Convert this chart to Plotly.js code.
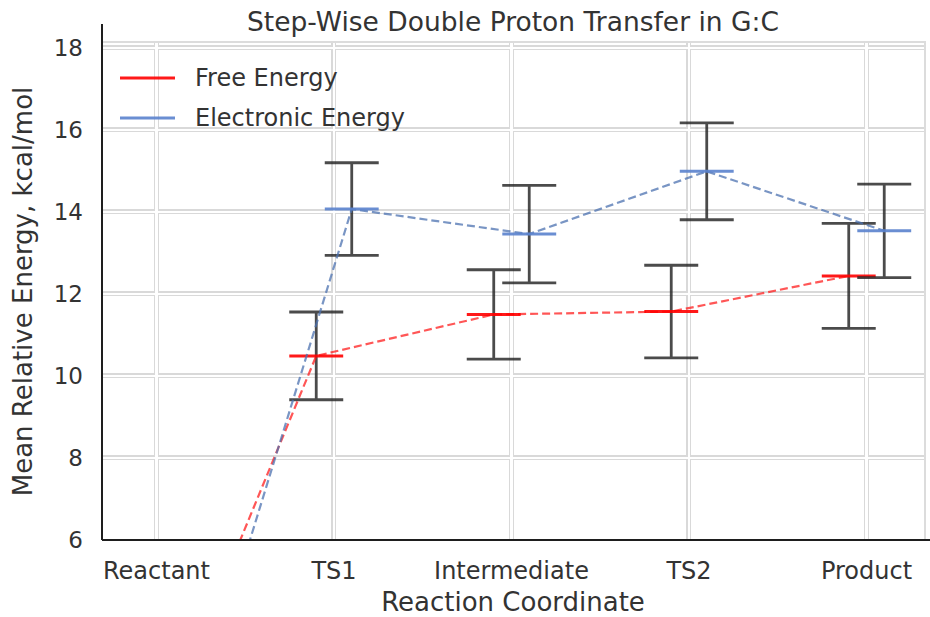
<!DOCTYPE html>
<html><head><meta charset="utf-8">
<script src="https://cdn.plot.ly/plotly-3.0.1.min.js"></script>
<style>html,body{margin:0;padding:0;background:#fff}#chart{width:930px;height:617px}</style>
</head><body><div id="chart"></div>
<script>
// ---- data ----
const categories = ['Reactant', 'TS1', 'Intermediate', 'TS2', 'Product'];
const freeEnergy = [0, 10.49, 11.50, 11.57, 12.44];
const freeErr    = [0, 1.07, 1.09, 1.13, 1.28];
const elecEnergy = [0, 14.07, 13.46, 14.99, 13.54];
const elecErr    = [0, 1.13, 1.19, 1.18, 1.14];
const yTicks     = [6, 8, 10, 12, 14, 16, 18];
const seriesNames = ['Free Energy', 'Electronic Energy'];

// ---- styling ----
const FONT = 'DejaVu Sans, Verdana, sans-serif';
const TXT = '#333333';
const RED_LINE = 'rgba(255,30,30,0.75)';
const RED_MARK = 'rgba(255,0,0,0.9)';
const BLUE_LINE = 'rgba(76,114,176,0.75)';
const BLUE_MARK = 'rgba(90,130,205,0.9)';
const ERR = 'rgba(35,35,35,0.82)';
const DODGE = 0.1;

const idx = categories.map((_, i) => i);
const xFree = idx.map(i => i - DODGE);
const xElec = idx.map(i => i + DODGE);
const xRange = [-0.307, 4.324];
const yRange = [6, 18.12];

const traces = [
  {
    type: 'scatter', mode: 'lines+markers', name: seriesNames[0],
    x: xFree, y: freeEnergy, showlegend: false,
    line: {color: RED_LINE, width: 2.2, dash: '8px,4px'},
    marker: {symbol: 'line-ew', size: 38.5, color: RED_MARK, line: {color: RED_MARK, width: 3}},
    error_y: {type: 'data', array: freeErr, visible: true, color: ERR, thickness: 2.8, width: 27},
    xaxis: 'x', yaxis: 'y'
  },
  {
    type: 'scatter', mode: 'lines+markers', name: seriesNames[1],
    x: xElec, y: elecEnergy, showlegend: false,
    line: {color: BLUE_LINE, width: 2.2, dash: '8px,4px'},
    marker: {symbol: 'line-ew', size: 38.5, color: BLUE_MARK, line: {color: BLUE_MARK, width: 3}},
    error_y: {type: 'data', array: elecErr, visible: true, color: ERR, thickness: 2.8, width: 27},
    xaxis: 'x2', yaxis: 'y2'
  }
];

const legendColors = [RED_MARK, BLUE_MARK];
const legendY = [0.9296, 0.8491];
const shapes = [
  // black spines (left and bottom)
  {type: 'line', xref: 'paper', yref: 'paper', x0: 0, x1: 0, y0: 0, y1: 1.038, line: {color: '#1e1e1e', width: 2}},
  {type: 'line', xref: 'paper', yref: 'paper', x0: 0, x1: 1.008, y0: 0, y1: 0, line: {color: '#1e1e1e', width: 2}}
];
const annotations = [];
seriesNames.forEach((n, i) => {
  shapes.push({type: 'line', xref: 'paper', yref: 'paper', x0: 0.0219, x1: 0.0888,
    y0: legendY[i], y1: legendY[i], line: {color: legendColors[i], width: 3}});
  annotations.push({xref: 'paper', yref: 'paper', x: 0.1107, y: legendY[i], xanchor: 'left', yanchor: 'middle',
    text: n, showarrow: false, font: {family: FONT, size: 24, color: TXT}});
});

const layout = {
  width: 930, height: 617,
  margin: {l: 102, r: 6, t: 43, b: 77},
  paper_bgcolor: '#ffffff', plot_bgcolor: '#ffffff',
  font: {family: FONT, color: TXT},
  showlegend: false,
  title: {text: 'Step-Wise Double Proton Transfer in G:C', font: {family: FONT, size: 26.5, color: TXT},
          x: 0.5, xref: 'paper', y: 1 - 22 / 617, yref: 'container', yanchor: 'middle', xanchor: 'center'},
  xaxis: {
    range: xRange, tickmode: 'array', tickvals: idx, ticktext: categories,
    showgrid: true, gridcolor: '#d9d9d9', gridwidth: 5, zeroline: false, showline: false,
    ticks: '', ticklabelstandoff: 14, tickfont: {family: FONT, size: 24, color: TXT},
    title: {text: 'Reaction Coordinate', font: {family: FONT, size: 26, color: TXT}, standoff: 8},
    automargin: false
  },
  yaxis: {
    range: yRange, tickmode: 'array', tickvals: yTicks,
    showgrid: true, gridcolor: '#d9d9d9', gridwidth: 5, zeroline: false, showline: false,
    ticks: '', ticklabelstandoff: 18, tickfont: {family: FONT, size: 23, color: TXT},
    title: {text: 'Mean Relative Energy, kcal/mol', font: {family: FONT, size: 26, color: TXT}, standoff: 13},
    automargin: false
  },
  xaxis2: {
    overlaying: 'x', anchor: 'y2', side: 'top', range: xRange, tickmode: 'array', tickvals: idx,
    showticklabels: false, ticks: '', showgrid: true, gridcolor: '#ffffff', gridwidth: 2.5,
    zeroline: false, showline: true, linecolor: '#dcdcdc', linewidth: 2
  },
  yaxis2: {
    overlaying: 'y', anchor: 'x2', side: 'right', range: yRange, tickmode: 'array', tickvals: yTicks,
    showticklabels: false, ticks: '', showgrid: true, gridcolor: '#ffffff', gridwidth: 2.5,
    zeroline: false, showline: true, linecolor: '#dcdcdc', linewidth: 2
  },
  shapes: shapes,
  annotations: annotations
};

Plotly.newPlot('chart', traces, layout, {displayModeBar: false, staticPlot: true});
</script>
</body></html>
